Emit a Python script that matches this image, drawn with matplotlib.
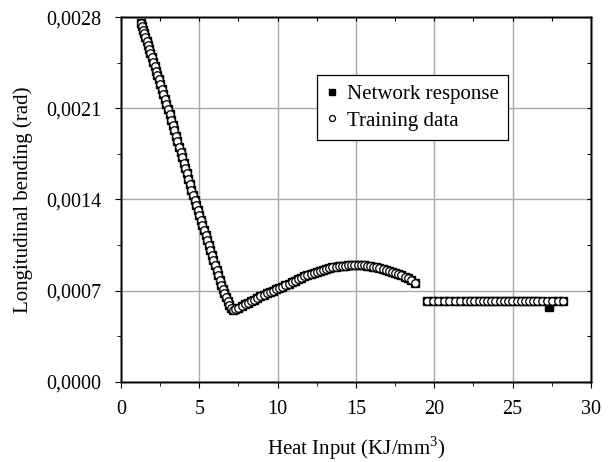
import matplotlib
matplotlib.use("Agg")
import matplotlib.pyplot as plt
from matplotlib.ticker import MultipleLocator, FuncFormatter

plt.rcParams['font.family'] = ['Liberation Serif', 'DejaVu Serif']
plt.rcParams['mathtext.fontset'] = 'custom'
plt.rcParams['mathtext.rm'] = 'Liberation Serif'

# falling branch
desc_x = [1.26, 1.33, 1.40, 1.48, 1.56, 1.64, 1.72, 1.80, 1.88, 1.96, 2.05, 2.14, 2.23, 2.32,
          2.41, 2.50, 2.60, 2.70, 2.80, 2.90, 3.00, 3.10, 3.20, 3.30, 3.40, 3.50, 3.60, 3.70,
          3.80, 3.90, 4.00, 4.10, 4.20, 4.30, 4.40, 4.50, 4.60, 4.70, 4.80, 4.90, 5.00, 5.10,
          5.20, 5.30, 5.40, 5.50, 5.60, 5.70, 5.80, 5.90, 6.00, 6.10, 6.20, 6.30, 6.40, 6.50,
          6.60, 6.70, 6.80, 6.90, 7.00, 7.13]
desc_y = [0.002759, 0.002732, 0.002706, 0.002676, 0.002645, 0.002615, 0.002585, 0.002554,
          0.002524, 0.002494, 0.002460, 0.002425, 0.002391, 0.002357, 0.002323, 0.002289,
          0.002251, 0.002213, 0.002175, 0.002137, 0.002097, 0.002056, 0.002014, 0.001973,
          0.001931, 0.001890, 0.001848, 0.001807, 0.001766, 0.001724, 0.001683, 0.001641,
          0.001600, 0.001559, 0.001517, 0.001476, 0.001434, 0.001395, 0.001356, 0.001318,
          0.001279, 0.001241, 0.001203, 0.001164, 0.001126, 0.001087, 0.001049, 0.001011,
          0.000972, 0.000934, 0.000896, 0.000857, 0.000818, 0.000780, 0.000742, 0.000709,
          0.000679, 0.000649, 0.000620, 0.000590, 0.000565, 0.000551]

# rising / hump branch
rise_x = [7.30, 7.50, 7.70, 7.90, 8.10, 8.30, 8.50, 8.70, 8.90, 9.10, 9.30, 9.50, 9.70, 9.90,
          10.10, 10.30, 10.50, 10.70, 10.90, 11.10, 11.30, 11.50, 11.70, 11.90, 12.10, 12.30,
          12.50, 12.70, 12.90, 13.10, 13.30, 13.50, 13.70, 13.90, 14.10, 14.30, 14.50, 14.70,
          14.90, 15.10, 15.30, 15.50, 15.70, 15.90, 16.10, 16.30, 16.50, 16.70, 16.90, 17.10,
          17.30, 17.50, 17.70, 17.90, 18.10, 18.30, 18.50, 18.76]
rise_y = [0.000559, 0.000570, 0.000582, 0.000595, 0.000607, 0.000619, 0.000631, 0.000643,
          0.000655, 0.000667, 0.000678, 0.000689, 0.000699, 0.000709, 0.000719, 0.000730,
          0.000741, 0.000752, 0.000763, 0.000774, 0.000786, 0.000798, 0.000810, 0.000822,
          0.000831, 0.000839, 0.000846, 0.000853, 0.000859, 0.000865, 0.000872, 0.000878,
          0.000882, 0.000886, 0.000889, 0.000892, 0.000894, 0.000896, 0.000897, 0.000897,
          0.000896, 0.000894, 0.000891, 0.000888, 0.000884, 0.000878, 0.000872, 0.000866,
          0.000860, 0.000852, 0.000844, 0.000836, 0.000827, 0.000817, 0.000806, 0.000794,
          0.000779, 0.000756]

# flat branch (three groups)
flat_x = [19.55, 19.90, 20.25, 20.60, 20.95, 21.30, 21.65, 22.00, 22.30,
          22.55, 22.82, 23.09, 23.36, 23.63, 23.90, 24.17, 24.44, 24.71, 24.98, 25.25, 25.52,
          25.79, 26.06, 26.29,
          26.55, 26.88, 27.21, 27.54, 27.87, 28.19]
flat_y = [0.000622, 0.000621, 0.000622, 0.000622, 0.000621, 0.000622, 0.000622, 0.000621, 0.000622,
          0.000622, 0.000622, 0.000621, 0.000622, 0.000622, 0.000621, 0.000622, 0.000622, 0.000621,
          0.000622, 0.000622, 0.000621, 0.000622, 0.000622, 0.000621,
          0.000622, 0.000622, 0.000621, 0.000622, 0.000622, 0.000622]
flat_net_x = [19.55, 19.90, 20.25, 20.60, 20.95, 21.30, 21.65, 22.00, 22.30,
              22.55, 22.82, 23.09, 23.36, 23.63, 23.90, 24.17, 24.44, 24.71, 24.98, 25.25, 25.52,
              25.79, 26.06, 26.29,
              26.55, 26.88, 27.33, 27.54, 27.87, 28.19]
flat_net_y = [0.000622, 0.000621, 0.000622, 0.000622, 0.000621, 0.000622, 0.000622, 0.000621, 0.000622,
              0.000622, 0.000622, 0.000621, 0.000622, 0.000622, 0.000621, 0.000622, 0.000622, 0.000621,
              0.000622, 0.000622, 0.000621, 0.000622, 0.000622, 0.000621,
              0.000622, 0.000622, 0.000571, 0.000622, 0.000622, 0.000622]

train_x = desc_x + rise_x + flat_x
train_y = desc_y + rise_y + flat_y
net_x = desc_x + rise_x + flat_net_x
net_y = desc_y + rise_y + flat_net_y

fig = plt.figure(figsize=(6.16, 4.62), dpi=100)
ax = fig.add_axes([0.1964, 0.1738, 0.763, 0.7888])

ax.plot(net_x, net_y, ls='none', marker='s', ms=5.8, mfc='black', mec='black',
        label='Network response', zorder=3)
ax.plot(train_x, train_y, ls='none', marker='o', ms=5.4, mfc='white', mec='black',
        mew=0.9, label='Training data', zorder=4)

ax.set_xlim(0, 30)
ax.set_ylim(0, 0.0028)
ax.xaxis.set_major_locator(MultipleLocator(5))
ax.xaxis.set_minor_locator(MultipleLocator(2.5))
ax.yaxis.set_major_locator(MultipleLocator(0.0007))
ax.yaxis.set_minor_locator(MultipleLocator(0.00035))
ax.yaxis.set_major_formatter(FuncFormatter(lambda v, p: ('%.4f' % v).replace('.', ',')))
ax.grid(True, which='major', color='#a8a8a8', lw=1.0)
ax.set_axisbelow(True)

ax.tick_params(which='both', direction='out', labelsize=14.5, top=False, right=False)
ax.tick_params(which='major', length=4.3)
ax.tick_params(which='minor', length=2.6)
ax.tick_params(axis='x', which='both', pad=9)
ax.tick_params(axis='y', which='both', pad=10)

# inward ticks on top and right
axt = ax.twiny()
axt.set_xlim(ax.get_xlim())
axt.xaxis.set_major_locator(MultipleLocator(2.5))
axt.tick_params(direction='in', length=3, labeltop=False)
axr = ax.twinx()
axr.set_ylim(ax.get_ylim())
axr.yaxis.set_major_locator(MultipleLocator(0.00035))
axr.tick_params(direction='in', length=3, labelright=False)

for a in (ax, axt, axr):
    for s in a.spines.values():
        s.set_linewidth(1.0)
        s.set_color('black')

ax.set_xlabel('Heat Input (KJ/mm$^3$)', fontsize=15, labelpad=11)
ax.set_ylabel('Longitudinal bending (rad)', fontsize=15, labelpad=9)

leg = ax.legend(loc='upper left', bbox_to_anchor=(0.417, 0.842), borderaxespad=0,
                fontsize=15, frameon=True, fancybox=False, edgecolor='black', framealpha=1,
                handlelength=0.5, handletextpad=0.5, borderpad=0.45, labelspacing=0.35,
                markerscale=0.8)
leg.get_frame().set_linewidth(0.9)
leg.set_zorder(10)

fig.savefig('out.png', dpi=100)
